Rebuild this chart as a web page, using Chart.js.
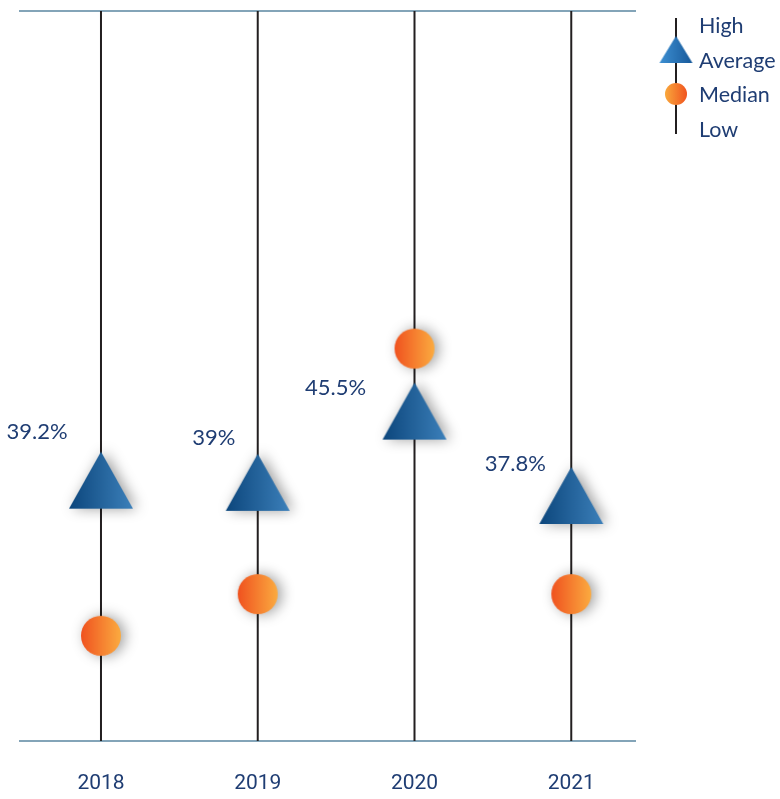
<!DOCTYPE html>
<html>
<head>
<meta charset="utf-8">
<script src="https://cdn.jsdelivr.net/npm/chart.js@4.4.1/dist/chart.umd.min.js"></script>
<style>
  html, body { margin: 0; padding: 0; background: #ffffff; }
  #wrap { position: relative; width: 780px; height: 799px; }
</style>
</head>
<body>
<div id="wrap"><canvas id="chart" width="780" height="799"></canvas></div>
<script>
// Yearly spread: high/low range, average and median (%)
const years    = ['2018', '2019', '2020', '2021'];
const highs    = [82, 82, 82, 82];
const lows     = [15.4, 15.4, 15.4, 15.4];
const averages = [39.2, 39, 45.5, 37.8];
const medians  = [25.0, 28.8, 51.2, 28.8];

const NAVY = '#1f3d73';
const AXIS_LINE = '#5b87a1';
const RANGE_LINE = '#231f20';

// Marker sprites with gradient fill and soft shadow
function triangleSprite(w, h, leftColor, rightColor, shadow) {
  const pad = shadow ? 22 : 2;
  const c = document.createElement('canvas');
  c.width = w + pad * 2; c.height = h + pad * 2;
  const g = c.getContext('2d');
  const grad = g.createLinearGradient(pad, 0, pad + w, 0);
  grad.addColorStop(0, leftColor);
  grad.addColorStop(1, rightColor);
  if (shadow) {
    g.shadowColor = 'rgba(0,0,0,0.38)';
    g.shadowBlur = 14;
    g.shadowOffsetX = 4;
    g.shadowOffsetY = 0;
  }
  g.fillStyle = grad;
  g.beginPath();
  g.moveTo(pad + w / 2, pad);
  g.lineTo(pad + w, pad + h);
  g.lineTo(pad, pad + h);
  g.closePath();
  g.fill();
  return c;
}
function circleSprite(r, leftColor, rightColor, shadow) {
  const pad = shadow ? 22 : 2;
  const c = document.createElement('canvas');
  c.width = c.height = r * 2 + pad * 2;
  const g = c.getContext('2d');
  const grad = g.createLinearGradient(pad, 0, pad + 2 * r, 0);
  grad.addColorStop(0, leftColor);
  grad.addColorStop(1, rightColor);
  if (shadow) {
    g.shadowColor = 'rgba(0,0,0,0.38)';
    g.shadowBlur = 14;
    g.shadowOffsetX = 4;
    g.shadowOffsetY = 0;
  }
  g.fillStyle = grad;
  g.beginPath();
  g.arc(pad + r, pad + r, r, 0, Math.PI * 2);
  g.fill();
  return c;
}

const avgSprite = triangleSprite(64, 57, '#0c467c', '#3c80ba', true);
const medSprite = circleSprite(20, '#f0521f', '#fbab40', true);
const legendTri = triangleSprite(33, 27, '#3d8fd2', '#17599a', false);
const legendDot = circleSprite(11, '#f9a83c', '#f0541f', false);

// Top/bottom frame lines, value labels and key
const decorations = {
  id: 'decorations',
  beforeDatasetsDraw(chart) {
    const { ctx, chartArea: a } = chart;
    ctx.save();
    ctx.strokeStyle = AXIS_LINE;
    ctx.lineWidth = 1.6;
    ctx.beginPath();
    ctx.moveTo(a.left, a.top); ctx.lineTo(a.right, a.top);
    ctx.moveTo(a.left, a.bottom); ctx.lineTo(a.right, a.bottom);
    ctx.stroke();
    ctx.restore();
  },
  afterDatasetsDraw(chart, args, opts) {
    const { ctx } = chart;
    const xs = chart.scales.x, ys = chart.scales.y;
    ctx.save();
    ctx.fillStyle = NAVY;
    ctx.font = '22px Lato';
    ctx.textAlign = 'center';
    ctx.textBaseline = 'middle';
    averages.forEach((v, i) => {
      const off = opts.labelOffsets[i];
      ctx.fillText(v + '%', xs.getPixelForValue(i) + off[0], ys.getPixelForValue(v) + off[1]);
    });

    // key
    const kx = 676;
    ctx.strokeStyle = RANGE_LINE;
    ctx.lineWidth = 2;
    ctx.beginPath(); ctx.moveTo(kx, 18); ctx.lineTo(kx, 134); ctx.stroke();
    ctx.drawImage(legendTri, kx - legendTri.width / 2, 49.5 - legendTri.height / 2);
    ctx.drawImage(legendDot, kx - legendDot.width / 2, 94 - legendDot.height / 2);
    ctx.textAlign = 'left';
    ctx.font = '21.5px Lato';
    [['High', 26], ['Average', 61], ['Median', 95], ['Low', 130]].forEach(([t, y]) => {
      ctx.fillText(t, 699, y);
    });
    ctx.restore();
  }
};

const rangeSets = years.map((yr, i) => ({
  type: 'line',
  label: yr + ' range',
  data: [{ x: i, y: lows[i] }, { x: i, y: highs[i] }],
  borderColor: RANGE_LINE,
  borderWidth: 2,
  pointRadius: 0,
  showLine: true,
  order: 5
}));

new Chart(document.getElementById('chart'), {
  type: 'scatter',
  data: {
    datasets: [
      ...rangeSets,
      {
        label: 'Median',
        data: medians.map((v, i) => ({ x: i, y: v })),
        pointStyle: medSprite,
        pointRadius: 20,
        order: 2
      },
      {
        label: 'Average',
        data: averages.map((v, i) => ({ x: i, y: v })),
        pointStyle: avgSprite,
        pointRadius: 30,
        order: 1
      }
    ]
  },
  options: {
    responsive: false,
    animation: false,
    events: [],
    layout: { autoPadding: false, padding: { top: 11, left: 19, right: 144, bottom: 0 } },
    plugins: {
      legend: { display: false },
      tooltip: { enabled: false },
      decorations: { labelOffsets: [[-64, -48], [-44, -44], [-79, -23], [-56, -32]] }
    },
    scales: {
      x: {
        type: 'linear',
        min: -0.523,
        max: 3.413,
        grid: { display: false, drawTicks: false },
        border: { display: false },
        afterFit(scale) { scale.height = 58; scale.paddingLeft = 0; scale.paddingRight = 0; },
        afterBuildTicks(scale) { scale.ticks = years.map((_, i) => ({ value: i })); },
        ticks: {
          autoSkip: false,
          maxRotation: 0,
          padding: 30,
          color: NAVY,
          font: { family: 'Roboto', size: 21 },
          callback(v) { return years[v]; }
        }
      },
      y: {
        display: false,
        min: 15.4,
        max: 82
      }
    }
  },
  plugins: [decorations]
});
</script>
</body>
</html>
